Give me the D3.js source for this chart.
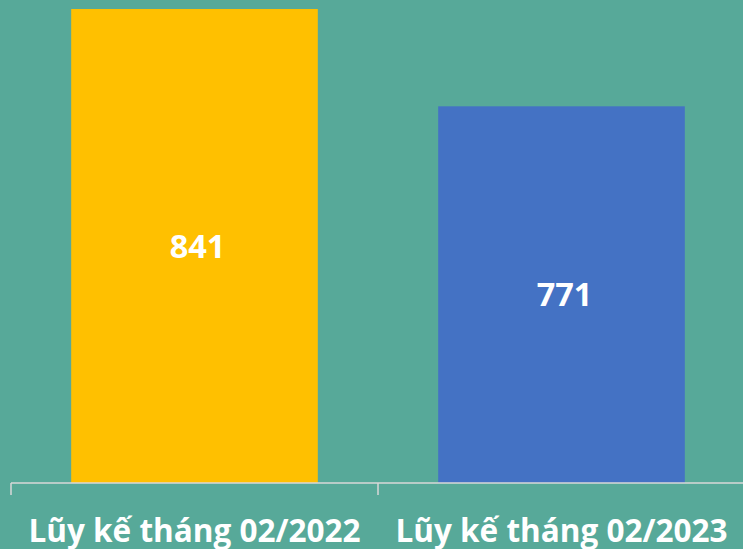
<!DOCTYPE html>
<html>
<head>
<meta charset="utf-8">
<script src="https://cdn.jsdelivr.net/npm/d3@7"></script>
<style>
  html, body { margin: 0; padding: 0; background: #57A999; }
  svg { display: block; }
</style>
</head>
<body>
<div id="chart"></div>
<script>
// chart data
const categories = ["Lũy kế tháng 02/2022", "Lũy kế tháng 02/2023"];
const values = [841, 771];
const colors = ["#FFC000", "#4472C4"];
const yDomain = [500, 850];

const width = 743, height = 549;
const margin = {top: -3.5, bottom: 66, left: 11, right: -2};

const svg = d3.select("#chart")
  .append("svg")
    .attr("width", width)
    .attr("height", height);

svg.append("rect")
  .attr("width", width)
  .attr("height", height)
  .attr("fill", "#57A999");

// x scale
const x = d3.scaleBand()
  .domain(categories)
  .range([margin.left, width - margin.right])
  .paddingInner(0.328)
  .paddingOuter(0.164);

// y scale (axis does not start at zero)
const y = d3.scaleLinear()
  .domain(yDomain)
  .range([height - margin.bottom, margin.top]);

const base = height - margin.bottom;

// bars
svg.selectAll(".bar")
  .data(values)
  .join("rect")
    .attr("class", "bar")
    .attr("x", (d, i) => x(categories[i]))
    .attr("y", d => y(d))
    .attr("width", x.bandwidth())
    .attr("height", d => base - y(d))
    .attr("fill", (d, i) => colors[i]);

// value labels
svg.selectAll(".val")
  .data(values)
  .join("text")
    .attr("class", "val")
    .attr("x", (d, i) => x(categories[i]) + x.bandwidth() / 2 + 3)
    .attr("y", d => (y(d) + base) / 2)
    .attr("dy", "0.36em")
    .attr("text-anchor", "middle")
    .attr("font-family", "'Open Sans', sans-serif")
    .attr("font-weight", "bold")
    .attr("font-size", 32.5)
    .attr("fill", "#fff")
    .text(d => d);

// x axis line and tick marks between categories
const xAxis = svg.append("g")
  .attr("transform", `translate(0,${base})`);

xAxis.append("line")
  .attr("x1", margin.left)
  .attr("x2", width)
  .attr("stroke", "#D9D9D9")
  .attr("stroke-width", 1.5);

const edges = [x.range()[0]].concat(categories.map(c => x(c) + x.bandwidth() + x.step() * x.paddingInner() / 2));
xAxis.selectAll(".tick")
  .data(edges)
  .join("line")
    .attr("class", "tick")
    .attr("x1", d => d)
    .attr("x2", d => d)
    .attr("y1", 0)
    .attr("y2", 12)
    .attr("stroke", "#D9D9D9")
    .attr("stroke-width", 1.5);

// category labels
svg.selectAll(".cat")
  .data(categories)
  .join("text")
    .attr("class", "cat")
    .attr("x", d => x(d) + x.bandwidth() / 2)
    .attr("y", 542)
    .attr("text-anchor", "middle")
    .attr("font-family", "'Open Sans', sans-serif")
    .attr("font-weight", "bold")
    .attr("font-size", 31.5)
    .attr("fill", "#fff")
    .text(d => d);
</script>
</body>
</html>
